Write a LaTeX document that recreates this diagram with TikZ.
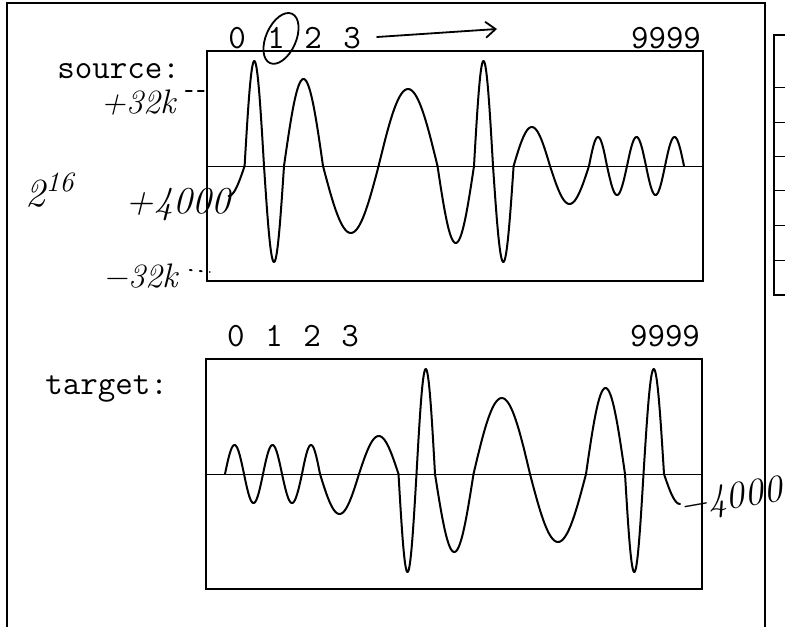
\documentclass[tikz,border=0pt]{standalone}
\usetikzlibrary{arrows.meta}
\tikzset{
  frame/.style={line width=1pt},
  axis/.style={line width=0.5pt},
  wave/.style={line width=1pt,line cap=round,line join=round},
  lbl/.style={font=\ttfamily\fontsize{17}{17}\selectfont,inner sep=0pt},
  hand/.style={font=\itshape\fontsize{17}{17}\selectfont,inner sep=0pt},
  pen/.style={line width=0.9pt,line cap=round},
}
\begin{document}
\begin{tikzpicture}[x=0.5pt,y=-0.5pt]
  \clip (0,0) rectangle (785,626);
  % outer frame, cut off at the bottom
  \draw[frame] (7,640) -- (7,3) -- (765,3) -- (765,640);
  % edge of the next panel
  \draw[frame] (800,35) -- (774,35) -- (774,295) -- (800,295);
  \foreach \y in {88,122,156,190,225,260}
    \draw[axis] (774,\y) -- (800,\y);

  % source
  \node[lbl,anchor=base west] (srclbl) at (57,78) {source:};
  \foreach \n/\x in {0/237,1/276,2/313,3/352}
    \node[lbl,anchor=base] (s\n) at (\x,49) {\n};
  \node[lbl,anchor=base] (s9999) at (666,49) {9999};
  \draw[frame] (207,51) rectangle (703,281);
  \draw[axis] (207,166) -- (703,166);
  \draw[wave] plot[domain=90:180,samples=20] ({212.6+32*\x/180},{166+30*sin(\x)});
  \foreach \a/\b/\h in {
      244.6/264/105, 264/284/-96, 284/323/87, 323/378.6/-67,
      378.6/437.5/77, 437.5/474/-77, 474/493/105, 493/513.6/-96,
      513.6/550/39, 550/589/-38, 589/607/29, 607/627/-29,
      627/646/29, 646/665/-29, 665/684/29}{
    \draw[wave] plot[domain=0:180,samples=40] ({\a+(\b-\a)*\x/180},{166-\h*sin(\x)});
  }

  % target
  \node[lbl,anchor=base west] (tgtlbl) at (45,394) {target:};
  \foreach \n/\x in {0/236,1/274,2/312,3/350}
    \node[lbl,anchor=base] (t\n) at (\x,346) {\n};
  \node[lbl,anchor=base] (t9999) at (665,346) {9999};
  \draw[frame] (206,359) rectangle (702,589);
  \draw[axis] (206,474) -- (702,474);
  \foreach \a/\b/\h in {
      225/244/29, 244/263/-29, 263/282/29, 282/302/-29,
      302/320/29, 320/359/-40, 359/398.5/38, 398.5/416.5/-98,
      416.5/435/105, 435/473.5/-78, 473.5/530/76, 530/586/-68,
      586/625/86, 625/643.5/-98, 643.5/664/105}{
    \draw[wave] plot[domain=0:180,samples=40] ({\a+(\b-\a)*\x/180},{474-\h*sin(\x)});
  }
  \draw[wave] plot[domain=0:90,samples=20] ({664+32*\x/180},{474+30*sin(\x)});

  % notes by hand
  \node[hand] (plus32) at (138,103) {+32k};
  \node[hand] (minus32) at (140,276) {−32k};
  \node[hand,font=\itshape\fontsize{20}{20}\selectfont] (twosix) at (50,190) {2\textsuperscript{16}};
  \node[hand,font=\itshape\fontsize{19}{19}\selectfont] (plus4k) at (178,205) {+4000};
  \node[hand,font=\itshape\fontsize{19}{19}\selectfont,rotate=10] (minus4k) at (731,500) {−4000};
  \draw[pen,dash pattern=on 3pt off 3pt] ([shift={(10,-12)}]plus32.east) -- ++(22,0);
  \draw[pen,dash pattern=on 1pt off 4pt] ([shift={(12,-6)}]minus32.east) -- ++(20,2);
  \draw[pen] ([shift={(5,0)}]s1.center) ellipse [x radius=15,y radius=27,rotate=-24];
  \coordinate (arrtip) at (497,29);
  \draw[pen,-{Straight Barb[length=5pt,width=8pt]}] ([shift={(25,-12)}]s3.base) -- (arrtip);
\end{tikzpicture}
\end{document}
